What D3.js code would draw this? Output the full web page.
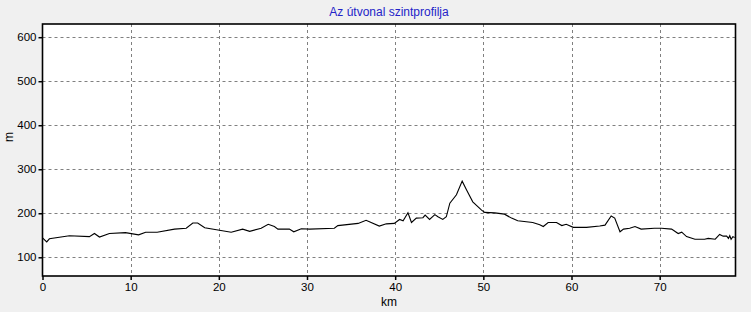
<!DOCTYPE html>
<html>
<head>
<meta charset="utf-8">
<script src="https://cdn.jsdelivr.net/npm/d3@7"></script>
<style>
  html, body { margin: 0; padding: 0; background: #f0f0f0; }
  svg { display: block; font-family: "Liberation Sans", Arial, sans-serif; }
</style>
</head>
<body>
<div id="chart"></div>
<script>
// distance along the route (km) and elevation (m)
const distKm = [0.0, 0.48, 0.78, 3.05, 5.32, 5.89, 6.46, 7.59, 9.41, 10.9, 11.7, 13.0, 14.97, 16.3, 17.05, 17.6,
  18.4, 19.9, 21.4, 22.7, 23.5, 24.8, 25.6, 26.3, 26.7, 28.0, 28.5, 29.35, 30.3, 33.1, 33.5, 35.8, 36.7, 38.2,
  39.0, 39.9, 40.5, 40.9, 41.45, 41.85, 42.4, 43.15, 43.4, 43.9, 44.5, 44.85, 45.4, 45.8, 46.2, 46.95, 47.6,
  48.1, 48.8, 49.8, 50.15, 51.3, 52.4, 53.2, 53.9, 55.6, 56.4, 56.8, 57.35, 58.3, 58.9, 59.4, 60.2, 61.7, 63.2,
  63.8, 64.5, 64.9, 65.5, 65.9, 66.6, 67.2, 67.9, 69.4, 70.2, 71.35, 72.1, 72.5, 73.05, 74.0, 75.1, 75.5, 76.3,
  76.8, 77.2, 77.6, 77.8, 77.95, 78.1, 78.3, 78.5];
const elevM = [144, 135, 142, 149, 147, 154, 146, 154, 156, 151, 157, 157, 164, 166, 178, 178,
  167, 162, 157, 164, 159, 166, 175, 170, 164, 164, 158, 165, 164, 166, 172, 177, 184, 171,
  176, 177, 186, 183, 201, 179, 189, 190, 196, 186, 197, 192, 186, 192, 223, 242, 273,
  253, 226, 207, 202, 201, 198, 189, 183, 179, 174, 170, 179, 179, 172, 175, 168, 168, 171,
  173, 194, 189, 158, 164, 166, 170, 164, 166, 166, 164, 154, 157, 147, 141, 141, 143, 141,
  152, 148, 148, 143, 149, 141, 147, 145];
const xTicks = [0, 10, 20, 30, 40, 50, 60, 70];
const yTicks = [100, 200, 300, 400, 500, 600];
const title = "Az útvonal szintprofilja";
const xLabel = "km";
const yLabel = "m";

const W = 751, H = 312;
const margin = { top: 24, right: 15.5, bottom: 36, left: 42.5 };
const pw = W - margin.left - margin.right, ph = H - margin.top - margin.bottom;

const svg = d3.select("#chart").append("svg").attr("width", W).attr("height", H);

const x = d3.scaleLinear().domain([0, 78.6]).range([margin.left, margin.left + pw]);
const y = d3.scaleLinear().domain([57.5, 630]).range([margin.top + ph, margin.top]);

svg.append("rect")
  .attr("x", margin.left).attr("y", margin.top)
  .attr("width", pw).attr("height", ph)
  .attr("fill", "#fff");

// dashed grid
svg.append("g").selectAll("line").data(yTicks).join("line")
  .attr("x1", margin.left).attr("x2", margin.left + pw)
  .attr("y1", d => Math.round(y(d)) + 0.5).attr("y2", d => Math.round(y(d)) + 0.5)
  .attr("stroke", "#808080").attr("stroke-dasharray", "3,3");
svg.append("g").selectAll("line").data(xTicks.slice(1)).join("line")
  .attr("y1", margin.top).attr("y2", margin.top + ph)
  .attr("x1", d => Math.round(x(d)) + 0.5).attr("x2", d => Math.round(x(d)) + 0.5)
  .attr("stroke", "#808080").attr("stroke-dasharray", "3,3");

// profile line
const line = d3.line().x((d, i) => x(distKm[i])).y(d => y(d));
svg.append("path")
  .datum(elevM)
  .attr("d", line)
  .attr("fill", "none")
  .attr("stroke", "#000")
  .attr("stroke-width", 1.1);

// frame
svg.append("rect")
  .attr("x", margin.left).attr("y", margin.top)
  .attr("width", pw).attr("height", ph)
  .attr("fill", "none").attr("stroke", "#000").attr("stroke-width", 1.6);

// axes
const xAxis = svg.append("g")
  .attr("transform", `translate(0,${margin.top + ph})`)
  .call(d3.axisBottom(x).tickValues(xTicks).tickSize(4).tickPadding(3));
const yAxis = svg.append("g")
  .attr("transform", `translate(${margin.left},0)`)
  .call(d3.axisLeft(y).tickValues(yTicks).tickSize(4).tickPadding(2));
[xAxis, yAxis].forEach(g => {
  g.select(".domain").remove();
  g.selectAll("line").attr("stroke", "#000").attr("stroke-width", 1.5);
  g.selectAll("text").attr("fill", "#000").style("font-size", "11.5px")
    .style("font-family", "'Liberation Sans', Arial, sans-serif");
});

svg.append("text")
  .attr("x", margin.left + pw / 2).attr("y", 16)
  .attr("text-anchor", "middle")
  .attr("fill", "#2323c8")
  .style("font-size", "12px")
  .text(title);

svg.append("text")
  .attr("x", margin.left + pw / 2).attr("y", 306)
  .attr("text-anchor", "middle")
  .attr("fill", "#000")
  .style("font-size", "12px")
  .text(xLabel);

svg.append("text")
  .attr("transform", "translate(13,137) rotate(-90)")
  .attr("text-anchor", "middle")
  .attr("fill", "#000")
  .style("font-size", "12px")
  .text(yLabel);
</script>
</body>
</html>
